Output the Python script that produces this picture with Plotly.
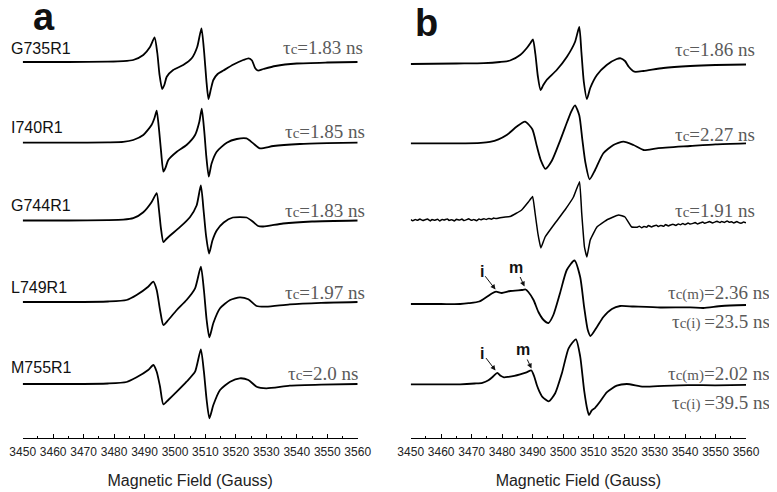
import plotly.graph_objects as go

# ---------------- data (field in Gauss, signal in relative units) ----------------
A_NAMES = ["G735R1", "I740R1", "G744R1", "L749R1", "M755R1"]
A_TAUS = ["τc=1.83 ns", "τc=1.85 ns", "τc=1.83 ns", "τc=1.97 ns", "τc=2.0 ns"]

A1_X = [3450, 3465, 3478, 3483, 3486.3, 3489.6, 3491.8, 3493.3, 3494.2, 3494.9, 3495.8, 3496.5, 3497.3, 3499.4,
        3502.7, 3505.5, 3507.3, 3508.7, 3509.6, 3510.3, 3511.0, 3511.8, 3512.6, 3514.0, 3515.9, 3519.2, 3522.4,
        3524.2, 3525.3, 3526.3, 3527.2, 3529.0, 3533.0, 3540.0, 3550, 3560]
A1_Y = [0, 0, 0.3, 0.8, 2, 7, 15, 24.5, 9, -12, -27, -23, -14.7, -8, -3, 3.7, 15, 33.7, 9, -18, -37, -27, -18,
        -12, -8.5, -2.5, 2, 3.7, 1.5, -6, -8.5, -7, -4, -1.5, -0.5, 0]

A2_X = [3450, 3465, 3478, 3483, 3486.3, 3489.6, 3492.3, 3493.3, 3494.0, 3494.8, 3495.5, 3496.2, 3496.9, 3497.8,
        3500.6, 3503.8, 3506.6, 3508.0, 3508.8, 3509.6, 3510.3, 3511.1, 3512.0, 3513.7, 3517.0, 3520.3, 3523.5,
        3525.7, 3527.9, 3532.3, 3541, 3550, 3560]
A2_Y = [0, 0, 0.3, 0.8, 2.7, 7.7, 17.7, 25, 32, 12, -11, -29, -25, -17.3, -9, -2.3, 7.7, 21, 34, 12, -14, -34,
        -21, -9, 0, 3.7, 4.3, -0.7, -5.7, -3.3, -1.3, -0.5, 0]

A3_X = [3450, 3465, 3478, 3483, 3486.3, 3489.6, 3492.3, 3494.0, 3494.7, 3495.4, 3496.2, 3497.0, 3498.4, 3501.6,
        3504.9, 3507.1, 3508.5, 3509.4, 3510.2, 3511.2, 3512.3, 3513.7, 3516.0, 3519.0, 3523.5, 3525.5, 3527.3,
        3529.0, 3535.5, 3545, 3560]
A3_Y = [0, 0, 0.3, 0.8, 2.3, 8.3, 18.3, 27.3, 12, -8, -21.7, -19, -15, -6.7, 3.3, 15, 35, 10, -15, -33, -20,
        -10, -2, 3, 3, -1, -5.5, -6, -3, -1, 0]

A4_X = [3450, 3465, 3478, 3484.1, 3487.4, 3491.2, 3492.9, 3494.0, 3495.1, 3496.2, 3497.8, 3500.6, 3503.8, 3506.6,
        3508.5, 3509.5, 3510.4, 3511.3, 3512.6, 3514.8, 3518.1, 3521.3, 3524.1, 3526.8, 3530, 3537.7, 3548, 3560]
A4_Y = [0, 0, 0.5, 2, 7, 15.3, 20.3, 12, -8, -23, -18, -8, 2, 13.7, 35.3, 12, -18, -35.3, -21, -6.3, 2, 4.7,
        2.7, -4, -4.7, -2.3, -0.8, 0]

A5_X = [3450, 3465, 3478, 3484.1, 3487.4, 3491.2, 3492.9, 3494.0, 3495.1, 3496.2, 3497.8, 3500.6, 3503.8, 3506.6,
        3508.5, 3509.5, 3510.4, 3511.3, 3512.6, 3514.8, 3518.1, 3521.3, 3524.1, 3526.8, 3530, 3537.7, 3548, 3560]
A5_Y = [0, 0, 0.5, 2, 6.7, 14, 19, 12.3, -2.7, -20.3, -16, -7.7, 2.3, 12.3, 34.7, 12.3, -16, -34.3, -21, -6,
        2.3, 5.7, 4, -2.7, -4.3, -1.7, -0.6, 0]

B_TAUS = ["τc=1.86 ns", "τc=2.27 ns", "τc=1.91 ns"]
B_TAUS_MI = [("τc(m)=2.36 ns", "τc(i) =23.5 ns"), ("τc(m)=2.02 ns", "τc(i) =39.5 ns")]

B1_X = [3450, 3465, 3474, 3479.3, 3482.6, 3485.9, 3488.1, 3489.3, 3490.1, 3490.9, 3491.7, 3492.6, 3493.5, 3494.6,
        3497.9, 3501.2, 3503.9, 3505.3, 3506.0, 3506.8, 3507.8, 3508.9, 3511.1, 3514.3, 3517.6, 3518.9, 3520.3,
        3521.6, 3523.4, 3526.4, 3532.9, 3541.7, 3550, 3560]
B1_Y = [0, 0.5, 0.8, 2, 3.5, 9, 16, 21, 24.7, 10, -12, -26, -21, -16, -6, 7, 22, 37, 12, -18, -35, -24, -11,
        -1, 5, 5.7, 3, -3, -7.7, -7, -4, -2, -1, -0.5]

B2_X = [3450, 3465, 3473, 3476.0, 3478.8, 3481.5, 3484.8, 3487.5, 3489.9, 3491.4, 3492.7, 3494.2, 3496.3, 3499.0,
        3501.4, 3502.7, 3503.9, 3505.3, 3506.3, 3507.3, 3508.7, 3510.5, 3513.2, 3516.5, 3519.8, 3523.1, 3526.4,
        3530.8, 3541.7, 3550, 3560]
B2_Y = [0, 0, 0.5, 1.5, 4, 8.3, 16.7, 21.7, 14, -3, -17, -25.5, -17.5, 2.5, 22, 32, 38, 28, 4, -19, -36, -26.7,
        -10, -1.7, 1.7, -1.7, -6.7, -5, -2.7, -1, 0]

B3_X = [3450, 3450.7, 3451.5, 3452.2, 3453, 3454, 3454.6, 3455.5, 3456.4, 3457, 3458, 3458.8, 3459.5, 3460.3,
        3461, 3462, 3462.6, 3463.5, 3464.3, 3465, 3466, 3466.8, 3467.5, 3468.4, 3469, 3470, 3470.7, 3471.6,
        3472.4, 3473, 3474, 3474.8, 3475.6, 3476.5, 3477.2, 3478,
        3479.3, 3480.5, 3482.6, 3484.5, 3486.4, 3488.6, 3490.0, 3490.8, 3491.7, 3492.7, 3494.1, 3497.4, 3500.6,
        3503.4, 3505.4, 3506.1, 3507.0, 3507.8, 3508.9, 3511.1, 3514.3, 3518.2, 3520.3, 3522.5, 3524.2,
        3525, 3525.8, 3526.5, 3527.4, 3528, 3529, 3529.7, 3530.6, 3531.3, 3532, 3533, 3533.6, 3534.5, 3535.4,
        3536, 3537, 3537.8, 3538.5, 3539.3, 3540, 3541, 3541.7, 3542.6, 3543.3, 3544, 3545, 3545.8, 3546.4,
        3547.3, 3548, 3549, 3549.7, 3550.5, 3551.4, 3552, 3553, 3553.8, 3554.5, 3555.3, 3556, 3557, 3557.6,
        3558.5, 3559.2, 3560]
B3_Y = [0.3, -0.8, 0.6, -0.3, 0.9, -0.5, 0.1, 1.0, -0.9, 0.4, -0.2, 0.8, -1.0, 0.5, 0.0, 1.1, -0.4, 0.3, -0.9,
        0.7, -0.1, 0.9, -0.6, 0.4, 1.2, -0.3, 0.6, -0.7, 1.0, 0.2, 1.3, 0.5, 1.6, 0.8, 1.9, 1.4,
        2.2, 2.8, 3.5, 6.5, 10, 18, 23.5, 7, -13, -28, -17, -3, 10, 23, 38.3, 7, -27, -37, -20, -7, 0, 5, 3, -7,
        -7.3,
        -6.2, -7.8, -6.5, -7.2, -5.5, -6.9, -6.0, -5.2, -6.6, -5.4, -6.3, -4.6, -5.9, -4.9, -4.2, -5.5, -4.0,
        -4.8, -3.5, -4.6, -3.0, -4.1, -3.4, -2.6, -3.9, -2.9, -2.0, -3.2, -2.4, -1.6, -3.0, -2.1, -1.3, -2.6,
        -1.5, -2.4, -1.0, -2.3, -1.8, -2.9, -1.6, -2.6, -3.1, -1.9, -2.7, -2.3]

B4_X = [3450, 3460, 3466.2, 3469, 3472.5, 3474.9, 3476.6, 3478.0, 3479.9, 3482.6, 3486.4, 3487.7, 3488.6, 3490.3,
        3491.9, 3493.6, 3495.2, 3496.8, 3499.0, 3501.2, 3503.7, 3505.6, 3506.9, 3508.1, 3509.0, 3511.1, 3513.2,
        3516.0, 3518.7, 3523.1, 3531.9, 3541.7, 3546, 3552, 3560]
B4_Y = [0, 0, 0, 0.8, 2.5, 7, 10.5, 12.3, 11, 13, 14, 14.5, 12, 4, -8, -16, -19, -11, 11, 34, 43.5, 27, -3,
        -26, -32, -23, -13, -5, -2, -2.5, -3.5, -3.3, -4, -2, -1]

B5_X = [3450, 3460, 3466.2, 3471, 3473.5, 3475.5, 3477.1, 3478.4, 3479.5, 3480.6, 3482.1, 3484, 3485.9, 3488.0,
        3489.6, 3490.5, 3491.4, 3492.2, 3493.2, 3495.3, 3497.4, 3499.6, 3501.8, 3504.2, 3505.6, 3506.9, 3508.0,
        3508.5, 3509.4, 3510.5, 3512.2, 3514.3, 3517.6, 3520.9, 3526.3, 3533, 3541, 3550, 3560]
B5_Y = [0, 0, 0, 0.8, 1.5, 4, 8, 11.5, 8.5, 7, 7.5, 8.5, 10, 12, 13.8, 8, -1, -7, -12.5, -17, -9, 11, 36, 45,
        28, -6, -26, -30.7, -26, -23.5, -17, -8, -1.3, 0.3, -2.3, -1.5, -0.8, -1, -0.5]

X_TITLE = "Magnetic Field (Gauss)"

# ---------------- layout constants ----------------
# The page places the figure 8 px from the top-left corner of the window,
# so positions below are given in window pixels and converted.
PAGE_OFF = 8
W, H = 777 - PAGE_OFF, 492 - PAGE_OFF
AXIS_Y = 438                     # window y of the x-axis line
PLOT_H = AXIS_Y - PAGE_OFF       # plot-area height in figure pixels
A_BASE_PX = [62, 142.7, 220.5, 302, 384]
B_BASE_PX = [64, 143.3, 220, 304, 384.3]

SANS = "Liberation Sans, Arial, sans-serif"
SERIF = "Liberation Serif, Times New Roman, serif"
GRAY = "#5a5a5a"


def px(xp, yp):
    """window pixel -> paper coords"""
    return (xp - PAGE_OFF) / W, (AXIS_Y - yp) / PLOT_H


def xdom(x0, x1):
    return [(x0 - PAGE_OFF) / W, (x1 - PAGE_OFF) / W]


fig = go.Figure()
a_sets = [(A1_X, A1_Y), (A2_X, A2_Y), (A3_X, A3_Y), (A4_X, A4_Y), (A5_X, A5_Y)]
b_sets = [(B1_X, B1_Y), (B2_X, B2_Y), (B3_X, B3_Y), (B4_X, B4_Y), (B5_X, B5_Y)]

for (xs, ys), base_px, name in zip(a_sets, A_BASE_PX, A_NAMES):
    off = AXIS_Y - base_px
    fig.add_trace(go.Scatter(x=xs, y=[v + off for v in ys], mode="lines", name=name,
                             line=dict(color="black", width=1.8, shape="spline", smoothing=0.6),
                             xaxis="x", yaxis="y", showlegend=False, hoverinfo="skip"))
for i, ((xs, ys), base_px) in enumerate(zip(b_sets, B_BASE_PX)):
    off = AXIS_Y - base_px
    fig.add_trace(go.Scatter(x=xs, y=[v + off for v in ys], mode="lines", name=f"b{i+1}",
                             line=dict(color="black", width=1.8 if i != 2 else 1.5, shape="spline",
                                       smoothing=0.6 if i != 2 else 0.3),
                             xaxis="x2", yaxis="y2", showlegend=False, hoverinfo="skip"))

axis_common = dict(range=[3450, 3560], tick0=3450, dtick=10, ticks="inside", ticklen=4, tickwidth=1.2,
                   tickcolor="black", showline=True, linecolor="black", linewidth=1.3, showgrid=False,
                   zeroline=False, automargin=False, ticklabelstandoff=2,
                   tickfont=dict(family=SANS, size=12, color="#222"),
                   minor=dict(ticks="inside", ticklen=2, tickwidth=1, tickcolor="black", dtick=5, tick0=3450,
                              showgrid=False),
                   title=dict(text=X_TITLE, font=dict(family=SANS, size=16, color="#222"), standoff=17))

fig.update_layout(
    width=W, height=H, autosize=False,
    margin=dict(l=0, r=0, t=0, b=H - PLOT_H, pad=0),
    paper_bgcolor="white", plot_bgcolor="white",
    xaxis=dict(domain=xdom(22.7, 357.7), anchor="y", **axis_common),
    xaxis2=dict(domain=xdom(410.7, 746), anchor="y2", **axis_common),
    yaxis=dict(range=[0, PLOT_H], visible=False, domain=[0, 1], automargin=False),
    yaxis2=dict(range=[0, PLOT_H], visible=False, domain=[0, 1], anchor="x2", automargin=False),
)

ann = []
# panel letters
for letter, (xp, yp) in [("a", (44, 17)), ("b", (426, 23))]:
    x, y = px(xp, yp)
    ann.append(dict(text=f"<b>{letter}</b>", x=x, y=y, xref="paper", yref="paper", showarrow=False,
                    xanchor="center", yanchor="middle", font=dict(family=SANS, size=38, color="#111")))
# sample labels
for name, yp in zip(A_NAMES, [48, 127, 206, 287.5, 367]):
    x, y = px(8.5, yp)
    ann.append(dict(text=name, x=x, y=y, xref="paper", yref="paper", showarrow=False,
                    xanchor="left", yanchor="middle", font=dict(family=SANS, size=16, color="#111")))


def tau_html(t):
    # subscript part (c, c(m), c(i)) drawn slightly smaller
    head, rest = t.split("=", 1)
    sub = head[1:]
    return "τ<span style='font-size:15px'>" + sub + "</span>=" + rest


for t, (xp, yp) in zip(A_TAUS, [(365, 47.7), (366.7, 131.7), (366.7, 210.5), (367, 292.5), (360, 373.5)]):
    x, y = px(xp, yp)
    ann.append(dict(text=tau_html(t), x=x, y=y, xref="paper", yref="paper", showarrow=False,
                    xanchor="right", yanchor="middle", font=dict(family=SERIF, size=19, color=GRAY)))
for t, (xp, yp) in zip(B_TAUS, [(756.7, 49.2), (757, 135), (757, 210.8)]):
    x, y = px(xp, yp)
    ann.append(dict(text=tau_html(t), x=x, y=y, xref="paper", yref="paper", showarrow=False,
                    xanchor="right", yanchor="middle", font=dict(family=SERIF, size=19, color=GRAY)))
for (tm, ti), (ym, yi) in zip(B_TAUS_MI, [(292, 321.7), (373.8, 402.5)]):
    for t, yp in [(tm, ym), (ti, yi)]:
        x, y = px(771.7, yp)
        ann.append(dict(text=tau_html(t), x=x, y=y, xref="paper", yref="paper", showarrow=False,
                        xanchor="right", yanchor="middle", font=dict(family=SERIF, size=19, color=GRAY)))

# i / m markers with arrows: (label, text center px, arrow head px)
MARKS = [("i", (481.7, 271.7), (495.5, 289.5)), ("m", (515.5, 267), (524.5, 286.5)),
         ("i", (482.5, 353.5), (495.5, 370.5)), ("m", (522.5, 349.5), (531.5, 368.5))]
for lab, (tx, ty), (hx, hy) in MARKS:
    x, y = px(hx, hy)
    ann.append(dict(text=f"<b>{lab}</b>", x=x, y=y, xref="paper", yref="paper", showarrow=True,
                    ax=tx - hx, ay=ty - hy, axref="pixel", ayref="pixel", arrowhead=2, arrowsize=1,
                    arrowwidth=1, arrowcolor="#111", standoff=0,
                    font=dict(family=SANS, size=16, color="#111")))

fig.update_layout(annotations=ann)
fig.write_html("out.html")
